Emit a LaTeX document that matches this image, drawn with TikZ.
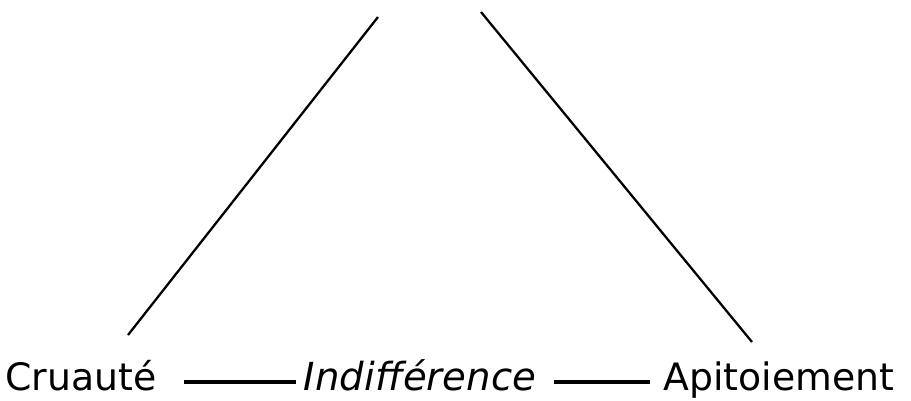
\documentclass[tikz,border=0pt]{standalone}
\usepackage{fontspec}
\setmainfont{DejaVu Sans}
\usetikzlibrary{positioning,calc}

\begin{document}
\begin{tikzpicture}[x=0.02cm, y=-0.02cm,
  word/.style={font=\fontsize{21.5}{26}\selectfont, inner sep=0pt, anchor=base west},
  side/.style={line width=1.3pt},
  bar/.style={line width=2pt}]
\useasboundingbox (0,0) rectangle (911,400);
% the three words
\node[word] (cru) at (5,390) {Cruauté};
\node[word, anchor=base, font=\fontsize{22}{26}\selectfont\itshape] (ind) at (420,390) {Indifférence};
\node[word] (api) at (663,390) {Apitoiement};
% free ends of the two sides
\coordinate (ltop) at (378,17);
\coordinate (rtop) at (481,12);
\coordinate (lfoot) at (128,335);
\coordinate (rfoot) at (752,342);
\draw[side] (lfoot) -- (ltop);
\draw[side] (rtop) -- (rfoot);
% bars between the words
\draw[bar] ($(cru.base east)+(27,-8)$) -- ($(ind.base west)+(-8,-8)$);
\draw[bar] ($(ind.base east)+(18,-8)$) -- ($(api.base west)+(-13,-8)$);
\end{tikzpicture}
\end{document}
